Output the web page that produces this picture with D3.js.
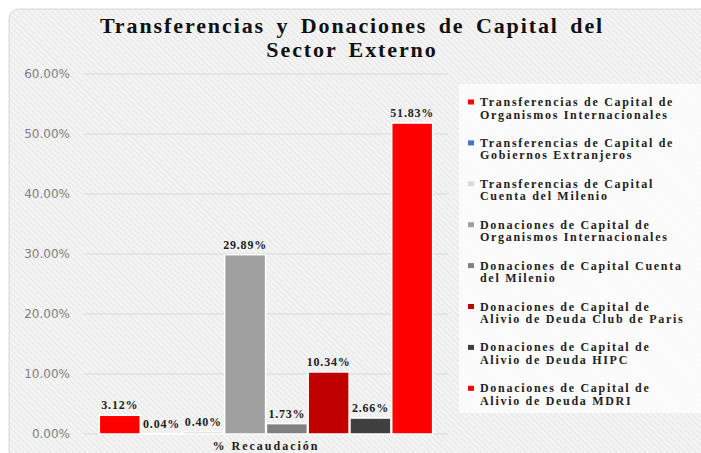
<!DOCTYPE html>
<html>
<head>
<meta charset="utf-8">
<script src="https://cdn.jsdelivr.net/npm/d3@7"></script>
<style>
	html, body { margin: 0; padding: 0; background: #fff; }
	svg { display: block; }
</style>
</head>
<body>
<svg id="chart" width="701" height="453"></svg>
<script>
// data
var titleLines = ['Transferencias y Donaciones de Capital del', 'Sector Externo']
var categories = ['% Recaudación']
var seriesNames = [
	['Transferencias de Capital de', 'Organismos Internacionales'],
	['Transferencias de Capital de', 'Gobiernos Extranjeros'],
	['Transferencias de Capital', 'Cuenta del Milenio'],
	['Donaciones de Capital de', 'Organismos Internacionales'],
	['Donaciones de Capital Cuenta', 'del Milenio'],
	['Donaciones de Capital de', 'Alivio de Deuda Club de Paris'],
	['Donaciones de Capital de', 'Alivio de Deuda HIPC'],
	['Donaciones de Capital de', 'Alivio de Deuda MDRI']
]
var seriesValues = [0.0312, 0.0004, 0.0040, 0.2989, 0.0173, 0.1034, 0.0266, 0.5183]
var seriesColors = ['#ff0000', '#4472c4', '#d9d9d9', '#a0a0a0', '#808080', '#c00000', '#404040', '#ff0000']
var yTicks = [0, 0.1, 0.2, 0.3, 0.4, 0.5, 0.6]

var svg = d3.select('#chart')
var defs = svg.append('defs')

// light diagonal hatch like the office chart style
var pat = defs.append('pattern')
	.attr('id', 'hatch')
	.attr('patternUnits', 'userSpaceOnUse')
	.attr('width', 4)
	.attr('height', 4)
	.attr('patternTransform', 'rotate(-45)')
pat.append('rect').attr('width', 4).attr('height', 4).attr('fill', '#f4f4f4')
pat.append('line').attr('x1', 0).attr('y1', 0).attr('x2', 0).attr('y2', 4)
	.attr('stroke', '#e2e2e2').attr('stroke-width', 1.5)

// frame
svg.append('rect')
	.attr('x', 9).attr('y', 9)
	.attr('width', 720).attr('height', 470)
	.attr('rx', 10)
	.attr('fill', 'url(#hatch)')
	.attr('stroke', '#d6d6d6')
	.attr('stroke-width', 1)

// title, one text per line
svg.append('g').selectAll('text').data(titleLines).join('text')
	.attr('x', 352)
	.attr('y', (d, i) => 33 + i * 24)
	.attr('text-anchor', 'middle')
	.attr('font-family', 'Liberation Serif, serif')
	.attr('font-weight', 'bold')
	.attr('font-size', 22)
	.attr('letter-spacing', 1.9)
	.attr('word-spacing', 4)
	.attr('fill', '#111')
	.text(d => d)

// scales
var y = d3.scaleLinear().domain([0, 0.6]).range([434, 74])
var xCat = d3.scaleBand().domain(categories).range([84, 448]).paddingOuter(0.046)
var xSer = d3.scaleBand().domain(d3.range(seriesValues.length))
	.range([0, xCat.bandwidth()]).paddingInner(0.02).paddingOuter(0)

// grid
svg.append('g').selectAll('line').data(yTicks).join('line')
	.attr('x1', 84).attr('x2', 448)
	.attr('y1', d => y(d)).attr('y2', d => y(d))
	.attr('stroke', '#d9d9d9')
	.attr('stroke-width', 1)

// y axis labels
var yAxis = svg.append('g')
	.attr('transform', 'translate(76,0)')
	.call(d3.axisLeft(y).tickValues(yTicks).tickFormat(d3.format('.2%')).tickSize(0).tickPadding(6))
yAxis.select('.domain').remove()
yAxis.selectAll('text')
	.attr('font-family', 'DejaVu Sans, sans-serif')
	.attr('font-size', 12)
	.attr('fill', '#7f7f7f')

// bars
var g = svg.append('g').attr('transform', `translate(${xCat(categories[0])},0)`)
g.selectAll('rect').data(seriesValues).join('rect')
	.attr('x', (d, i) => xSer(i))
	.attr('y', d => y(d))
	.attr('width', xSer.bandwidth())
	.attr('height', d => y(0) - y(d))
	.attr('fill', (d, i) => seriesColors[i])
	.attr('stroke', '#fff')
	.attr('stroke-width', 1.5)

g.selectAll('text').data(seriesValues).join('text')
	.attr('x', (d, i) => xSer(i) + xSer.bandwidth() / 2)
	.attr('y', d => y(d) - 6)
	.attr('text-anchor', 'middle')
	.attr('font-family', 'Liberation Serif, serif')
	.attr('font-weight', 'bold')
	.attr('font-size', 12)
	.attr('letter-spacing', 0.8)
	.attr('fill', '#222')
	.text(d => d3.format('.2%')(d))

// x label
svg.append('text')
	.attr('x', xCat(categories[0]) + xCat.bandwidth() / 2)
	.attr('y', 450)
	.attr('text-anchor', 'middle')
	.attr('font-family', 'Liberation Serif, serif')
	.attr('font-weight', 'bold')
	.attr('font-size', 12)
	.attr('letter-spacing', 2)
	.attr('fill', '#222')
	.text(categories[0])

// legend
svg.append('rect')
	.attr('x', 459).attr('y', 84)
	.attr('width', 250).attr('height', 329)
	.attr('fill', '#fff')
	.attr('opacity', 0.75)

var leg = svg.append('g').selectAll('g').data(seriesNames).join('g')
	.attr('transform', (d, i) => `translate(468,${102 + i * 40.9})`)
leg.append('rect')
	.attr('x', 0).attr('y', -2.5)
	.attr('width', 6).attr('height', 5)
	.attr('fill', (d, i) => seriesColors[i])
leg.append('text')
	.attr('font-family', 'Liberation Serif, serif')
	.attr('font-weight', 'bold')
	.attr('font-size', 12)
	.attr('letter-spacing', 1.7)
	.attr('fill', '#222')
	.selectAll('tspan').data(d => d).join('tspan')
	.attr('x', 12)
	.attr('y', (d, i) => 4 + i * 12.5)
	.text(d => d)
</script>
</body>
</html>
